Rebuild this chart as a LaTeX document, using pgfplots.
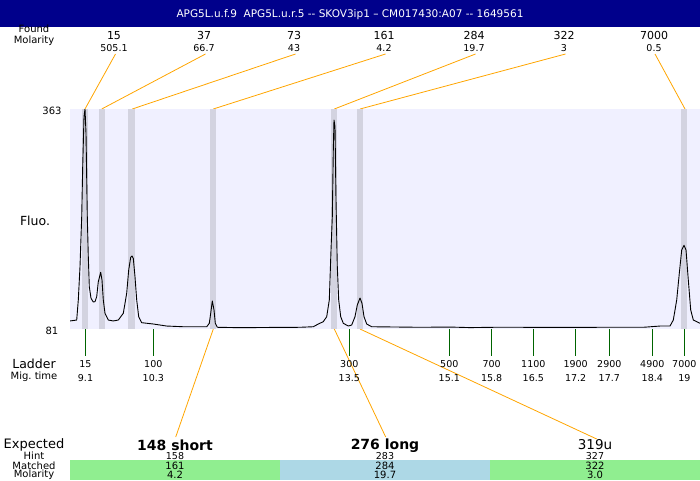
\documentclass[border=0pt]{standalone}
\usepackage{pgfplots}
\pgfplotsset{compat=1.18}
\usepackage{fontspec}
\setmainfont{DejaVu Sans}
\definecolor{hdr}{RGB}{0,0,139}
\definecolor{lav}{RGB}{240,240,255}
\definecolor{bandc}{RGB}{211,211,224}
\definecolor{lgreen}{RGB}{144,238,144}
\definecolor{lblue}{RGB}{173,216,230}
\definecolor{orng}{RGB}{255,165,0}
\definecolor{dgreen}{RGB}{0,100,0}
\newcommand{\fs}[1]{\fontsize{#1}{#1}\selectfont}
\newcommand{\lab}[4]{\node[anchor=base, inner sep=0pt] at (axis cs:#1,#2) {\fs{#3}#4};}
\begin{document}
\begin{tikzpicture}
% ---------- outer canvas axis (pixel coordinates) ----------
\begin{axis}[at={(0,0)}, anchor=south west, scale only axis,
  width=700pt, height=480pt, xmin=0, xmax=700, ymin=0, ymax=480,
  y dir=reverse, hide axis, clip=false]
% header
\addplot[fill=hdr, draw=none] coordinates {(0,0) (700,0) (700,26.5) (0,26.5)} -- cycle;
\node[anchor=base, inner sep=0pt, white] at (axis cs:350,17) {\fs{10.5}APG5L.u.f.9\ \ APG5L.u.r.5 -{}- SKOV3ip1 – CM017430:A07 -{}- 1649561};
% top labels
\lab{34}{32}{10}{Found}
\lab{34}{43.5}{10}{Molarity}
\lab{114}{39}{11}{15}   \lab{114}{51.7}{9.5}{505.1}
\lab{204}{39}{11}{37}   \lab{204}{51.7}{9.5}{66.7}
\lab{294}{39}{11}{73}   \lab{294}{51.7}{9.5}{43}
\lab{384}{39}{11}{161}  \lab{384}{51.7}{9.5}{4.2}
\lab{474}{39}{11}{284}  \lab{474}{51.7}{9.5}{19.7}
\lab{564}{39}{11}{322}  \lab{564}{51.7}{9.5}{3}
\lab{654}{39}{11}{7000} \lab{654}{51.7}{9.5}{0.5}
% orange connectors top
\addplot[orng, line width=0.8pt] coordinates {(115.5,54) (85,109)};
\addplot[orng, line width=0.8pt] coordinates {(205.5,54) (101.7,109)};
\addplot[orng, line width=0.8pt] coordinates {(295.5,54) (132.3,109)};
\addplot[orng, line width=0.8pt] coordinates {(385.5,54) (213.3,109)};
\addplot[orng, line width=0.8pt] coordinates {(475.5,54) (334.3,109)};
\addplot[orng, line width=0.8pt] coordinates {(565.5,54) (360,109)};
\addplot[orng, line width=0.8pt] coordinates {(655,54) (685,109)};
% orange connectors bottom
\addplot[orng, line width=0.8pt] coordinates {(213.3,329) (175.7,437)};
\addplot[orng, line width=0.8pt] coordinates {(334.3,329) (385.7,437)};
\addplot[orng, line width=0.8pt] coordinates {(360,329) (596.7,439)};
% axis-side labels
\lab{52}{114}{10}{363}
\lab{52}{334}{10}{81}
\lab{35}{225}{12.5}{Fluo.}
% ladder ticks
\addplot[dgreen, line width=0.9pt] coordinates {(85.5,329) (85.5,356)};
\addplot[dgreen, line width=0.9pt] coordinates {(153.3,329) (153.3,356)};
\addplot[dgreen, line width=0.9pt] coordinates {(349.3,329) (349.3,356)};
\addplot[dgreen, line width=0.9pt] coordinates {(449.3,329) (449.3,356)};
\addplot[dgreen, line width=0.9pt] coordinates {(491.7,329) (491.7,356)};
\addplot[dgreen, line width=0.9pt] coordinates {(533.3,329) (533.3,356)};
\addplot[dgreen, line width=0.9pt] coordinates {(575.7,329) (575.7,356)};
\addplot[dgreen, line width=0.9pt] coordinates {(609.3,329) (609.3,356)};
\addplot[dgreen, line width=0.9pt] coordinates {(652.3,329) (652.3,356)};
\addplot[dgreen, line width=0.9pt] coordinates {(684.3,329) (684.3,356)};
\lab{34}{368.3}{12.5}{Ladder}
\lab{34}{379.5}{10}{Mig.\ time}
\lab{85.5}{367}{9.5}{15}    \lab{85.5}{381}{9.5}{9.1}
\lab{153.3}{367}{9.5}{100}  \lab{153.3}{381}{9.5}{10.3}
\lab{349.3}{367}{9.5}{300}  \lab{349.3}{381}{9.5}{13.5}
\lab{449.3}{367}{9.5}{500}  \lab{449.3}{381}{9.5}{15.1}
\lab{491.7}{367}{9.5}{700}  \lab{491.7}{381}{9.5}{15.8}
\lab{533.3}{367}{9.5}{1100} \lab{533.3}{381}{9.5}{16.5}
\lab{575.7}{367}{9.5}{1900} \lab{575.7}{381}{9.5}{17.2}
\lab{609.3}{367}{9.5}{2900} \lab{609.3}{381}{9.5}{17.7}
\lab{652.3}{367}{9.5}{4900} \lab{652.3}{381}{9.5}{18.4}
\lab{684.3}{367}{9.5}{7000} \lab{684.3}{381}{9.5}{19}
% bottom table
\addplot[fill=lgreen, draw=none] coordinates {(70,460) (280,460) (280,480) (70,480)} -- cycle;
\addplot[fill=lblue, draw=none] coordinates {(280,460) (490,460) (490,480) (280,480)} -- cycle;
\addplot[fill=lgreen, draw=none] coordinates {(490,460) (700,460) (700,480) (490,480)} -- cycle;
\lab{34}{448.3}{13}{Expected}
\lab{34}{459.3}{10}{Hint}
\lab{34}{469}{10}{Matched}
\lab{34}{477.8}{10}{Molarity}
\lab{175}{450}{14}{\bfseries 148 short}
\lab{385}{449}{14}{\bfseries 276 long}
\lab{595}{449.5}{13.5}{319u}
\lab{175}{459.5}{9.5}{158} \lab{175}{469}{10}{161} \lab{175}{478.8}{10}{4.2}
\lab{385}{459.5}{9.5}{283} \lab{385}{469}{10}{284} \lab{385}{478.8}{10}{19.7}
\lab{595}{459.5}{9.5}{327} \lab{595}{469}{10}{322} \lab{595}{478.8}{10}{3.0}
\end{axis}
% ---------- electropherogram axis ----------
\begin{axis}[at={(70pt,151pt)}, anchor=south west, scale only axis,
  width=630pt, height=220pt, xmin=70, xmax=700, ymin=81, ymax=363,
  hide axis]
\addplot[fill=lav, draw=none] coordinates {(70,81) (700,81) (700,363) (70,363)} -- cycle;
\addplot[ycomb, line width=6.5pt, draw=bandc, mark=none] coordinates {(85,363) (102,363) (131.5,363) (213,363) (334,363) (360,363) (684,363)};
\addplot[black, line width=0.9pt, mark=none, line join=round] coordinates {
(70,91.3)(76.7,92.5)(78.3,118.2)(80,160.9)(81.7,224.9)(82.7,289.0)(84,353.1)(85,363)(86,331.9)(87.3,224.9)(88.3,173.7)(89.3,135.2)(91,120.4)(93.3,115.6)(95,116.0)(96.7,122.4)(98.3,141.6)(100.7,153.7)(102,143.8)(103.3,118.2)(105,101.1)(108.3,92.5)(113.3,91.3)(118.3,92.5)(123.3,101.1)(126.7,126.8)(128.7,156.6)(130.7,172.9)(132,174.6)(133.3,171.6)(135,148.0)(136.7,118.2)(138.7,96.8)(141.7,89.1)(153.3,87.4)(166.7,84.8)(183.3,83.9)(206.7,83.9)(209.3,88.3)(210.7,101.1)(212.3,116.9)(214,105.4)(215.3,88.3)(217.3,83.2)(240,82.7)(270,83.0)(300,83.2)(313.3,83.9)(318.3,87.4)(323.3,90.4)(326.7,96.8)(329.3,118.2)(331,182.3)(332.3,224.9)(333.3,310.4)(334,348.9)(335,340.3)(336,246.4)(337.3,160.9)(338.7,118.2)(340.7,96.8)(343.3,88.3)(348.3,84.8)(351.7,86.1)(355,96.8)(357.3,111.8)(360,120.7)(362,113.9)(364,96.8)(366.7,87.4)(371.7,83.9)(420,83.2)(450,83.5)(470,82.8)(500,83.3)(560,83.0)(600,83.2)(643.3,83.2)(660,84.8)(670,84.8)(673.3,92.5)(676.7,118.2)(679.3,152.4)(681.7,182.3)(684,188.3)(686,182.3)(688.3,143.8)(690.7,105.4)(693.3,92.5)(696.7,90.4)(700,88.3)};
\end{axis}
\end{tikzpicture}
\end{document}
